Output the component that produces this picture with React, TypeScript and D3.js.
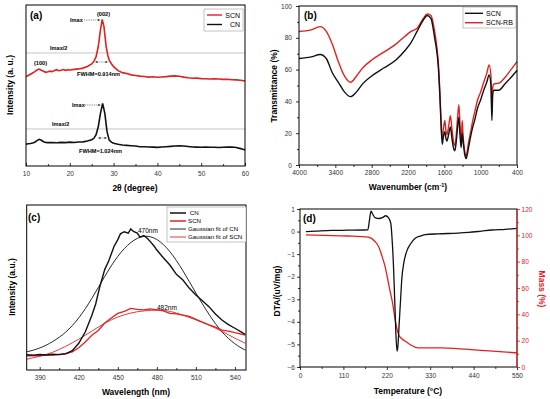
import React, { useRef, useEffect } from "react";
import * as d3 from "d3";

const FONT = "'Liberation Sans', Arial, Helvetica, sans-serif";
const RED = "#e3211f";
const BLACK = "#111";

// (a) XRD patterns: [2theta, intensity]
const xrdScn: [number, number][] = [
  [10, 55.5], [10.5, 56.2], [11, 57], [11.5, 57.8], [12, 58.6], [12.5, 59.6], [13, 60.2], [13.5, 59.5],
  [14, 58.8], [14.5, 58.2], [15, 58.5], [15.5, 58.9], [16, 58.6], [16.5, 59.3], [17, 59.8], [17.5, 59.2],
  [18, 59.5], [18.5, 59.9], [19, 59.4], [19.5, 59.8], [20, 59.6], [21, 60], [22, 60.3], [23, 60.8],
  [24, 61.8], [25, 63.4], [25.5, 65], [26, 67.9], [26.5, 74.2], [27, 84.5], [27.4, 91.1], [27.8, 86.6],
  [28.3, 74.2], [28.7, 68.5], [29, 65.8], [29.5, 63.5], [30, 61.7], [31, 59.2], [32, 58], [33, 57.4],
  [34, 56.6], [35, 56.2], [36, 55.8], [37, 55.6], [38, 55.2], [39, 55.4], [40, 55.1], [41, 55.3],
  [42, 55.5], [43, 55.8], [44, 56], [45, 55.7], [46, 55.2], [47, 54.8], [48, 54.5], [49, 54.6],
  [50, 54.3], [51, 54.2], [52, 54], [53, 54.1], [54, 54], [55, 53.8], [56, 53.9], [57, 53.6],
  [58, 53.5], [59, 53.3], [60, 52.8],
];
const xrdCn: [number, number][] = [
  [10, 13.5], [10.5, 13.8], [11, 14], [11.5, 14.3], [12, 14.8], [12.5, 15.8], [13, 16.6], [13.5, 16],
  [14, 15.1], [14.5, 14.6], [15, 14.5], [16, 14.6], [17, 14.4], [18, 14.7], [19, 14.5], [20, 14.8],
  [21, 14.6], [22, 14.9], [23, 15], [24, 15.5], [25, 16.3], [25.5, 17.2], [26, 19.5], [26.5, 24.4],
  [27, 32.7], [27.5, 38.9], [28, 32.7], [28.5, 21.3], [29, 16.1], [29.5, 14.8], [30, 14.1], [31, 13.5],
  [32, 13], [33, 12.8], [34, 12.6], [35, 12.4], [36, 12], [37, 12], [38, 11.8], [39, 11.7], [40, 11.6],
  [41, 11.8], [42, 12], [43, 12.2], [44, 12.4], [45, 12.6], [46, 12.4], [47, 12.1], [48, 11.8], [49, 11.7],
  [50, 11.6], [51, 11.7], [52, 11.6], [53, 11.6], [54, 11.5], [55, 11.6], [56, 11.7], [57, 11.8],
  [58, 11.5], [59, 10.8], [60, 9.9],
];
const xrdHalfScn = 70.2;
const xrdHalfCn = 23;
const xrdTicks = [10, 20, 30, 40, 50, 60];

// (b) FTIR
const irWavenumber = [
  4000, 3800, 3650, 3550, 3450, 3350, 3250, 3150, 3050, 2950, 2800, 2600, 2400, 2250, 2150, 2050, 1950, 1880,
  1820, 1760, 1720, 1700, 1670, 1650, 1634, 1615, 1592, 1575, 1558, 1530, 1500, 1475, 1450, 1425, 1405, 1385,
  1360, 1340, 1322, 1305, 1290, 1265, 1240, 1225, 1200, 1170, 1130, 1100, 1050, 1000, 950, 900, 860, 830, 815,
  800, 780, 700, 600, 500, 400,
];
const irScn = [
  67, 68, 69.5, 67, 58, 52, 46, 43, 46, 51, 56, 61, 66, 72, 77, 84, 91, 94, 92, 80, 70, 62, 40, 22, 13, 18, 21,
  17, 15, 19, 24, 17, 11, 9, 14, 22, 30, 18, 11, 20, 15, 7, 4, 6, 11, 17, 24, 28, 36, 41, 47, 52, 56.6, 50, 28,
  45, 47, 47, 51, 55, 59.5,
];
const irScnRb = [
  84, 85, 87, 84, 76, 65, 56, 52, 56, 61, 66, 71, 76, 81, 84, 86, 92, 95, 94, 84, 73, 65, 43, 24, 16, 23, 28,
  22, 19, 24, 31, 23, 15, 12, 18, 28, 38, 24, 14, 28, 18, 9, 5, 8, 14, 20, 28, 33, 41, 46, 52, 57.6, 63, 56,
  33, 49, 51, 51.5, 55, 60, 65,
];
const irXTicks = [4000, 3400, 2800, 2200, 1600, 1000, 400];
const irYTicks = [0, 20, 40, 60, 80, 100];

// (c) PL spectra
const plCn: [number, number][] = [
  [380, 9.2], [385, 9], [390, 9.4], [395, 9.1], [400, 9.5], [405, 9.3], [410, 9.8], [415, 11.7], [420, 16.2],
  [425, 23], [430, 33], [433, 40], [436, 50], [440, 61], [443, 66], [447, 74.7], [450, 79], [452, 82.5],
  [455, 83.8], [458, 83], [460, 85.5], [462, 84], [465, 83], [467, 80.5], [470, 81.5], [473, 79.5], [475, 77.8],
  [478, 75], [480, 72.7], [485, 68], [490, 63.6], [495, 58], [500, 54.5], [505, 49.5], [510, 45.5], [515, 42],
  [520, 38.4], [525, 34], [530, 30.3], [535, 27.5], [540, 25.3], [545, 23], [548, 21.5],
];
const plCnFit: [number, number][] = [
  [380, 11], [390, 13], [400, 17], [410, 22.5], [420, 31], [430, 43], [440, 57], [450, 69.5], [460, 78],
  [470, 82], [480, 80], [490, 72.5], [500, 60.5], [510, 46.5], [520, 33.5], [530, 22.5], [540, 15.5], [548, 12],
];
const plScn: [number, number][] = [
  [380, 8.5], [385, 8.8], [390, 8.6], [395, 9], [400, 9], [405, 9.5], [410, 10], [415, 11], [420, 13.5],
  [425, 17], [430, 21], [435, 24], [440, 28.5], [445, 31.5], [450, 34.3], [455, 35.5], [460, 37.3], [465, 36.8],
  [470, 36.4], [475, 37], [480, 36.4], [485, 35.8], [490, 34.3], [495, 34], [500, 33.3], [505, 32.5], [510, 30.7],
  [515, 29], [520, 27.3], [525, 26], [530, 24.2], [535, 23.5], [540, 22.6], [545, 21.8], [548, 21.2],
];
const plScnFit: [number, number][] = [
  [380, 6.5], [390, 8.3], [400, 10.5], [410, 14.3], [420, 18.6], [430, 23.5], [440, 28.6], [450, 32.3],
  [460, 34.7], [470, 36], [482, 36.4], [490, 35.8], [500, 33.3], [510, 30.5], [520, 27.3], [530, 23.5],
  [540, 19.2], [548, 16.2],
];
const plTicks = [390, 420, 450, 480, 510, 540];

// (d) DTA / TG
const dta: [number, number][] = [
  [15, 0], [40, 0.02], [80, 0.05], [120, 0.06], [160, 0.07], [172, 0.08], [176, 0.5], [180, 0.9], [184, 0.78],
  [190, 0.62], [200, 0.58], [210, 0.63], [217, 0.7], [224, 0.62], [230, 0.38], [234, -0.5], [237, -1.55],
  [240, -3], [243, -4.5], [246, -5.3], [248, -5.1], [251, -4.2], [255, -3], [258, -2.1], [263, -1.4],
  [270, -0.9], [280, -0.55], [292, -0.3], [305, -0.2], [317, -0.14], [350, -0.1], [400, -0.07], [427, -0.04],
  [460, 0.02], [486, 0.07], [520, 0.1], [550, 0.14],
];
const mass: [number, number][] = [
  [15, 100.4], [60, 100], [120, 99.5], [173, 98.6], [190, 95.3], [200, 91], [208, 84], [215, 77], [221, 68.7],
  [228, 58], [235, 48], [239, 40], [243, 33], [247, 27.5], [251, 24], [258, 21.5], [265, 20], [282, 16.5],
  [299, 14.5], [330, 14.5], [358, 14.5], [390, 14.2], [418, 13.5], [480, 12.2], [550, 10.7],
];
const tempTicks = [0, 110, 220, 330, 440, 550];
const dtaTicks = [-6, -5, -4, -3, -2, -1, 0, 1];
const massTicks = [0, 20, 40, 60, 80, 100, 120];

type G = d3.Selection<SVGGElement, unknown, null, undefined>;

function styleAxis(a: G, color = "#000", size = 6.6) {
  a.select(".domain").remove();
  a.selectAll("line").attr("stroke", color).attr("stroke-width", 0.8);
  a.selectAll("text").attr("font-family", FONT).attr("font-size", size).attr("fill", color === "#000" ? "#333" : color);
}

function box(g: G, x0: number, y0: number, x1: number, y1: number) {
  g.append("rect").attr("x", x0).attr("y", y0).attr("width", x1 - x0).attr("height", y1 - y0)
    .attr("fill", "none").attr("stroke", "#000").attr("stroke-width", 1);
}

function label(g: G, x: number, y: number, txt: string, size: number, opts: any = {}) {
  const t = g.append("text").attr("x", x).attr("y", y).attr("font-family", FONT).attr("font-size", size)
    .attr("font-weight", opts.bold ? "bold" : "normal").attr("fill", opts.color || "#000")
    .attr("text-anchor", opts.anchor || "start").text(txt);
  if (opts.rotate) t.attr("transform", `rotate(${opts.rotate},${x},${y})`);
  return t;
}

function arrow(g: G, x0: number, x1: number, y: number) {
  g.append("line").attr("x1", x0).attr("x2", x1 - 2).attr("y1", y).attr("y2", y)
    .attr("stroke", "#333").attr("stroke-width", 0.6).attr("stroke-dasharray", "1,0.8");
  g.append("path").attr("d", `M${x1},${y}L${x1 - 2.5},${y - 1.3}L${x1 - 2.5},${y + 1.3}Z`).attr("fill", "#333");
}

function doubleArrow(g: G, x0: number, x1: number, y: number) {
  g.append("line").attr("x1", x0 + 2).attr("x2", x1 - 2).attr("y1", y).attr("y2", y)
    .attr("stroke", "#333").attr("stroke-width", 0.6).attr("stroke-dasharray", "1,0.8");
  g.append("path").attr("d", `M${x1},${y}L${x1 - 2.5},${y - 1.3}L${x1 - 2.5},${y + 1.3}Z`).attr("fill", "#333");
  g.append("path").attr("d", `M${x0},${y}L${x0 + 2.5},${y - 1.3}L${x0 + 2.5},${y + 1.3}Z`).attr("fill", "#333");
}

function drawXrd(svg: G) {
  const g = svg.append("g");
  const x = d3.scaleLinear().domain([10, 60]).range([26, 245]);
  const y = d3.scaleLinear().domain([0, 100]).range([166, 5]);
  const line = d3.line<[number, number]>().x((d) => x(d[0])).y((d) => y(d[1])).curve(d3.curveLinear);

  [xrdHalfScn, xrdHalfCn].forEach((v) => {
    g.append("line").attr("x1", x(10)).attr("x2", x(60)).attr("y1", y(v)).attr("y2", y(v))
      .attr("stroke", "#b5b5b5").attr("stroke-width", 0.8);
  });
  g.append("path").datum(xrdCn).attr("fill", "none").attr("stroke", BLACK).attr("stroke-width", 1.6).attr("d", line);
  g.append("path").datum(xrdScn).attr("fill", "none").attr("stroke", RED).attr("stroke-width", 1.6).attr("d", line);

  const ax = g.append("g").attr("transform", `translate(0,166)`)
    .call(d3.axisBottom(x).tickValues(xrdTicks).tickSize(-3).tickPadding(5.8).tickFormat(d3.format("d")));
  styleAxis(ax);
  const axm = g.append("g").attr("transform", `translate(0,166)`)
    .call(d3.axisBottom(x).tickValues([15, 25, 35, 45, 55]).tickSize(-2).tickFormat(() => ""));
  styleAxis(axm);
  box(g, 26, 5, 245, 166);

  // annotations
  label(g, 30, 19, "(a)", 10, { bold: true });
  label(g, 70, 22, "Imax", 5.6, { bold: true });
  arrow(g, 84, x(27.2) - 1, 20);
  label(g, 103.5, 16, "(002)", 5.6, { bold: true, anchor: "middle" });
  label(g, 50, 50, "Imax/2", 5.6, { bold: true });
  label(g, 34, 65, "(100)", 5.6, { bold: true });
  doubleArrow(g, 95, 108, 62);
  label(g, 77, 76, "FWHM=0.914nm", 5.6, { bold: true });
  label(g, 72, 107, "Imax", 5.6, { bold: true });
  arrow(g, 85, x(27.3) - 1, 105);
  label(g, 52, 126, "Imax/2", 5.6, { bold: true });
  doubleArrow(g, 98, 107, 138);
  label(g, 79, 153, "FWHM=1.024nm", 5.6, { bold: true });

  // legend
  g.append("rect").attr("x", 204).attr("y", 9).attr("width", 39).attr("height", 22)
    .attr("fill", "#fff").attr("stroke", "#888").attr("stroke-width", 0.5);
  g.append("line").attr("x1", 207).attr("x2", 222).attr("y1", 15).attr("y2", 15).attr("stroke", RED).attr("stroke-width", 1.4);
  g.append("line").attr("x1", 207).attr("x2", 222).attr("y1", 24.5).attr("y2", 24.5).attr("stroke", BLACK).attr("stroke-width", 1.4);
  label(g, 240, 17.5, "SCN", 7, { anchor: "end" });
  label(g, 240, 27, "CN", 7, { anchor: "end" });

  label(g, 135, 191, "2θ (degree)", 8.5, { bold: true, anchor: "middle" });
  label(g, 13, 85, "Intensity (a. u.)", 8.5, { bold: true, anchor: "middle", rotate: -90 });
}

function drawIr(svg: G) {
  const g = svg.append("g");
  const x = d3.scaleLinear().domain([4000, 400]).range([299, 517]);
  const y = d3.scaleLinear().domain([0, 100]).range([165, 6]);
  const line = d3.line<number>().x((_, i) => x(irWavenumber[i])).y((d) => y(d)).curve(d3.curveMonotoneX);

  g.append("path").datum(irScnRb).attr("fill", "none").attr("stroke", RED).attr("stroke-width", 1.4).attr("d", line);
  g.append("path").datum(irScn).attr("fill", "none").attr("stroke", BLACK).attr("stroke-width", 1.4).attr("d", line);

  const ax = g.append("g").attr("transform", `translate(0,165)`)
    .call(d3.axisBottom(x).tickValues(irXTicks).tickSize(3).tickPadding(2.3).tickFormat(d3.format("d")));
  styleAxis(ax);
  const axm = g.append("g").attr("transform", `translate(0,165)`)
    .call(d3.axisBottom(x).tickValues([3700, 3100, 2500, 1900, 1300, 700]).tickSize(2).tickFormat(() => ""));
  styleAxis(axm);
  const ay = g.append("g").attr("transform", `translate(299,0)`)
    .call(d3.axisLeft(y).tickValues(irYTicks).tickSize(3).tickPadding(4).tickFormat(d3.format("d")));
  styleAxis(ay);
  const aym = g.append("g").attr("transform", `translate(299,0)`)
    .call(d3.axisLeft(y).tickValues([10, 30, 50, 70, 90]).tickSize(2).tickFormat(() => ""));
  styleAxis(aym);
  box(g, 299, 6, 517, 165);

  label(g, 304, 19, "(b)", 10, { bold: true });

  g.append("rect").attr("x", 463).attr("y", 7).attr("width", 53).attr("height", 21)
    .attr("fill", "#fff").attr("stroke", "#888").attr("stroke-width", 0.5);
  g.append("line").attr("x1", 465).attr("x2", 483).attr("y1", 13.3).attr("y2", 13.3).attr("stroke", BLACK).attr("stroke-width", 1.4);
  g.append("line").attr("x1", 465).attr("x2", 483).attr("y1", 22.7).attr("y2", 22.7).attr("stroke", RED).attr("stroke-width", 1.4);
  label(g, 486, 16, "SCN", 7);
  label(g, 486, 25.4, "SCN-RB", 7);

  const t = label(g, 408, 190, "Wavenumber (cm", 8.5, { bold: true, anchor: "middle" });
  t.append("tspan").attr("font-size", 5.5).attr("dy", -3.5).text("-1");
  t.append("tspan").attr("dy", 3.5).text(")");
  label(g, 277, 86, "Transmittance (%)", 8.5, { bold: true, anchor: "middle", rotate: -90 });
}

function drawPl(svg: G) {
  const g = svg.append("g");
  const x = d3.scaleLinear().domain([380, 548.5]).range([26.7, 246]);
  const y = d3.scaleLinear().domain([0, 100]).range([370, 205]);
  const line = d3.line<[number, number]>().x((d) => x(d[0])).y((d) => y(d[1]));
  const smooth = d3.line<[number, number]>().x((d) => x(d[0])).y((d) => y(d[1])).curve(d3.curveBasis);

  g.append("path").datum(plCnFit).attr("fill", "none").attr("stroke", BLACK).attr("stroke-width", 0.9).attr("d", smooth);
  g.append("path").datum(plScnFit).attr("fill", "none").attr("stroke", RED).attr("stroke-width", 0.9).attr("d", smooth);
  g.append("path").datum(plScn).attr("fill", "none").attr("stroke", RED).attr("stroke-width", 1.3).attr("d", line);
  g.append("path").datum(plCn).attr("fill", "none").attr("stroke", BLACK).attr("stroke-width", 1.4).attr("d", line);

  const ax = g.append("g").attr("transform", `translate(0,370)`)
    .call(d3.axisBottom(x).tickValues(plTicks).tickSize(-3).tickPadding(5.8).tickFormat(d3.format("d")));
  styleAxis(ax);
  const axm = g.append("g").attr("transform", `translate(0,370)`)
    .call(d3.axisBottom(x).tickValues([405, 435, 465, 495, 525]).tickSize(-2).tickFormat(() => ""));
  styleAxis(axm);
  box(g, 26.7, 205, 246, 370);

  label(g, 28, 221, "(c)", 10, { bold: true });
  label(g, 138, 233, "470nm", 6.5);
  label(g, 157, 310, "482nm", 6.5);

  g.append("rect").attr("x", 167).attr("y", 207).attr("width", 79).attr("height", 35)
    .attr("fill", "#fff").attr("stroke", "#888").attr("stroke-width", 0.5);
  const items: [string, string, number][] = [
    [" CN", BLACK, 1.5], ["SCN", RED, 1.5], ["Gaussian fit of CN", BLACK, 0.9], ["Gaussian fit of SCN", RED, 0.9],
  ];
  items.forEach(([txt, c, w], i) => {
    const yy = 213 + i * 8;
    g.append("line").attr("x1", 170).attr("x2", 186).attr("y1", yy).attr("y2", yy).attr("stroke", c).attr("stroke-width", w);
    label(g, 188, yy + 2.2, txt, 6.2).attr("xml:space", "preserve");
  });

  label(g, 136, 395, "Wavelength (nm)", 8.5, { bold: true, anchor: "middle" });
  label(g, 15, 287, "Intensity (a.u.)", 8.5, { bold: true, anchor: "middle", rotate: -90 });
}

function drawTg(svg: G) {
  const g = svg.append("g");
  const x = d3.scaleLinear().domain([0, 550]).range([300, 517]);
  const yL = d3.scaleLinear().domain([-6, 1]).range([367, 209]);
  const yR = d3.scaleLinear().domain([0, 120]).range([367, 209]);
  const lineL = d3.line<[number, number]>().x((d) => x(d[0])).y((d) => yL(d[1])).curve(d3.curveMonotoneX);
  const lineR = d3.line<[number, number]>().x((d) => x(d[0])).y((d) => yR(d[1])).curve(d3.curveMonotoneX);

  g.append("path").datum(mass).attr("fill", "none").attr("stroke", RED).attr("stroke-width", 1.3).attr("d", lineR);
  g.append("path").datum(dta).attr("fill", "none").attr("stroke", BLACK).attr("stroke-width", 1.3).attr("d", lineL);

  const ax = g.append("g").attr("transform", `translate(0,367)`)
    .call(d3.axisBottom(x).tickValues(tempTicks).tickSize(3).tickPadding(3.8).tickFormat(d3.format("d")));
  styleAxis(ax);
  const axm = g.append("g").attr("transform", `translate(0,367)`)
    .call(d3.axisBottom(x).tickValues([55, 165, 275, 385, 495]).tickSize(2).tickFormat(() => ""));
  styleAxis(axm);
  const ay = g.append("g").attr("transform", `translate(300,0)`)
    .call(d3.axisLeft(yL).tickValues(dtaTicks).tickSize(3).tickPadding(2).tickFormat(d3.format("d")));
  styleAxis(ay);
  const aym = g.append("g").attr("transform", `translate(300,0)`)
    .call(d3.axisLeft(yL).tickValues(d3.range(-5.5, 1, 1)).tickSize(2).tickFormat(() => ""));
  styleAxis(aym);
  const ar = g.append("g").attr("transform", `translate(517,0)`)
    .call(d3.axisRight(yR).tickValues(massTicks).tickSize(3).tickPadding(1.5).tickFormat(d3.format("d")));
  styleAxis(ar, RED);
  const arm = g.append("g").attr("transform", `translate(517,0)`)
    .call(d3.axisRight(yR).tickValues(d3.range(10, 120, 20)).tickSize(2).tickFormat(() => ""));
  styleAxis(arm, RED);
  g.append("rect").attr("x", 300).attr("y", 209).attr("width", 217).attr("height", 158)
    .attr("fill", "none").attr("stroke", "#000").attr("stroke-width", 1);
  g.append("line").attr("x1", 517).attr("x2", 517).attr("y1", 209).attr("y2", 367).attr("stroke", RED).attr("stroke-width", 1);

  label(g, 303, 222, "(d)", 10, { bold: true });
  label(g, 408, 394, "Temperature (°C)", 8.5, { bold: true, anchor: "middle" });
  label(g, 280, 291, "DTA/(uV/mg)", 8.5, { bold: true, anchor: "middle", rotate: -90 });
  label(g, 539, 289, "Mass (%)", 8.5, { bold: true, anchor: "middle", rotate: 90, color: RED });
}

export default function App() {
  const svgRef = useRef<SVGSVGElement | null>(null);

  useEffect(() => {
    const svg = d3.select(svgRef.current) as any;
    const root: G = svg.append("g");
    drawXrd(root);
    drawIr(root);
    drawPl(root);
    drawTg(root);
    return () => {
      svg.selectAll("*").remove();
    };
  }, []);

  return (
    <svg
      ref={svgRef}
      width={550}
      height={399}
      style={{ position: "absolute", left: 0, top: 0, background: "#fff" }}
    />
  );
}
